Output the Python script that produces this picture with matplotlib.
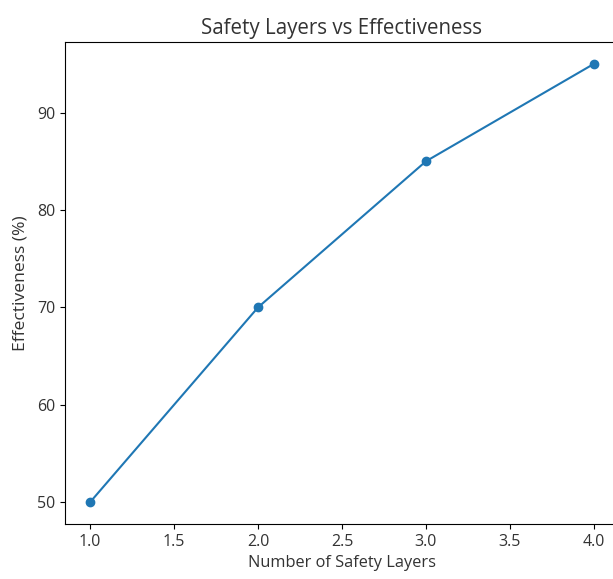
import matplotlib
matplotlib.use("Agg")
import matplotlib.pyplot as plt

plt.rcParams['font.family'] = ['Open Sans', 'DejaVu Sans']
plt.rcParams['text.color'] = '#333333'
plt.rcParams['axes.labelcolor'] = '#333333'
plt.rcParams['xtick.labelcolor'] = '#333333'
plt.rcParams['ytick.labelcolor'] = '#333333'

layers = [1, 2, 3, 4]
effectiveness = [50, 70, 85, 95]

fig = plt.figure(figsize=(6.13, 5.79), dpi=100)
W, H = 613, 579
ax = fig.add_axes([65 / W, 1 - 524 / H, (619 - 65) / W, (524 - 42) / H])
ax.plot(layers, effectiveness, marker="o", color="#1f77b4")
ax.set_title("Safety Layers vs Effectiveness", fontsize=14.8)
ax.set_xlabel("Number of Safety Layers", fontsize=11.8)
ax.set_ylabel("Effectiveness (%)", fontsize=12.6, labelpad=6)
ax.tick_params(labelsize=11.5)
fig.savefig("out.png", dpi=100)
